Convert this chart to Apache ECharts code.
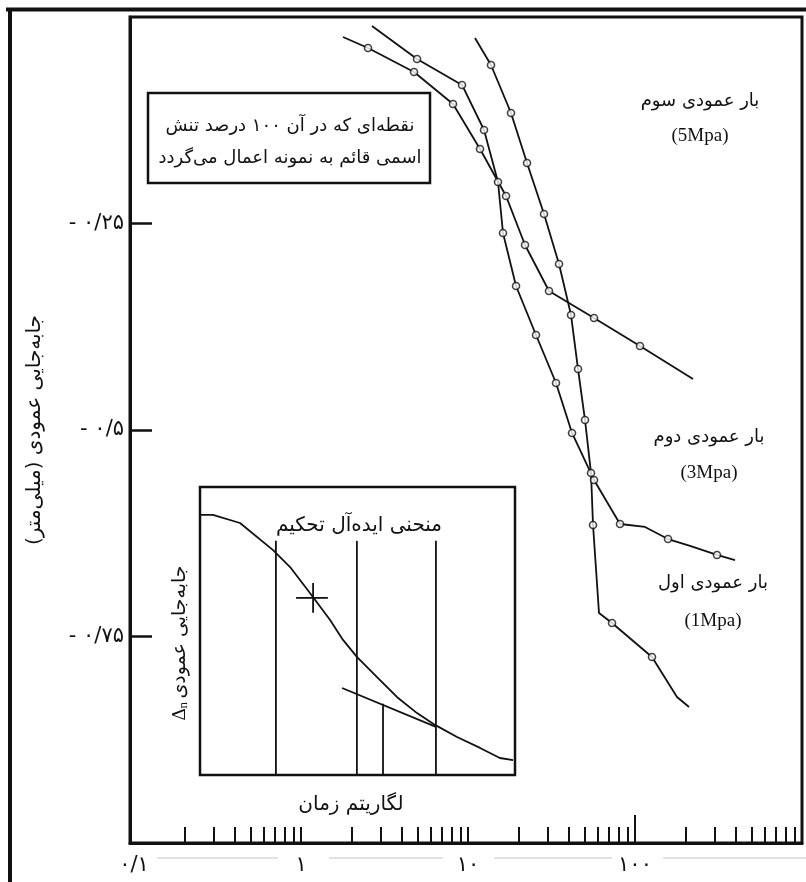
<!DOCTYPE html>
<html dir="ltr"><head><meta charset="utf-8">
<script src="https://cdn.jsdelivr.net/npm/echarts@6/dist/echarts.min.js"></script>
<style>html,body{margin:0;padding:0;background:#fff}#c{width:806px;height:882px}</style>
</head><body><div id="c"></div><script>
// ---------- data ----------
// time (log axis) and vertical displacement (mm)
const loadNames = ['بار عمودی سوم', 'بار عمودی دوم', 'بار عمودی اول'];
const loadUnits = ['(5Mpa)', '(3Mpa)', '(1Mpa)'];

// 5 MPa curve: traced line and measured points
const timeLoad5Trace = [1.784, 2.519, 4.750, 8.132, 11.80, 16.89, 21.95, 30.55, 56.83, 107.1, 222.5];
const dispLoad5Trace = [-0.0242, -0.0375, -0.0666, -0.1053, -0.1598, -0.2167, -0.2760, -0.3317, -0.3644, -0.3983, -0.4383];
const timeLoad5Pts = [2.519, 4.750, 8.132, 11.80, 16.89, 21.95, 30.55, 56.83, 107.1];
const dispLoad5Pts = [-0.0375, -0.0666, -0.1053, -0.1598, -0.2167, -0.2760, -0.3317, -0.3644, -0.3983];

// 3 MPa curve
const timeLoad3Trace = [2.661, 4.950, 9.207, 12.47, 15.12, 16.20, 19.39, 25.54, 33.65, 41.96, 56.83, 81.33, 114.8, 157.6, 213.5, 309.7, 397.0];
const dispLoad3Trace = [-0.0109, -0.0508, -0.0823, -0.1368, -0.1998, -0.2615, -0.3257, -0.3850, -0.4431, -0.5036, -0.5605, -0.6138, -0.6174, -0.6320, -0.6404, -0.6513, -0.6574];
const timeLoad3Pts = [4.950, 9.207, 12.47, 15.12, 16.20, 19.39, 25.54, 33.65, 41.96, 56.83, 81.33, 157.6, 309.7];
const dispLoad3Pts = [-0.0508, -0.0823, -0.1368, -0.1998, -0.2615, -0.3257, -0.3850, -0.4431, -0.5036, -0.5605, -0.6138, -0.6320, -0.6513];

// 1 MPa curve
const timeLoad1Trace = [11.01, 13.73, 18.09, 22.56, 28.52, 35.07, 41.39, 45.58, 50.19, 54.53, 56.05, 60.87, 72.84, 126.4, 178.4, 210.6];
const dispLoad1Trace = [-0.0254, -0.0581, -0.1162, -0.1768, -0.2385, -0.2990, -0.3608, -0.4262, -0.4879, -0.5521, -0.6150, -0.7215, -0.7337, -0.7748, -0.8232, -0.8354];
const timeLoad1Pts = [13.73, 18.09, 22.56, 28.52, 35.07, 41.39, 45.58, 50.19, 54.53, 56.05, 72.84, 126.4];
const dispLoad1Pts = [-0.0581, -0.1162, -0.1768, -0.2385, -0.2990, -0.3608, -0.4262, -0.4879, -0.5521, -0.6150, -0.7337, -0.7748];

// axes
const xMin = 0.0946, xMax = 1000;
const xTickLabels = [0.1, 1, 10, 100];
const xMinorTicks = [0.2, 0.3, 0.4, 0.5, 0.6, 0.7, 0.8, 0.9, 1, 2, 3, 4, 5, 6, 7, 8, 9, 10,
  20, 30, 40, 50, 60, 70, 80, 90, 100, 200, 300, 400, 500, 600, 700, 800, 900];
const xLongTicks = [100];
const yMin = -1, yMax = 0;
const yTickValues = [-0.25, -0.5, -0.75];

// inset (ideal consolidation curve), arbitrary units 0..100
const insetTime = [0, 4.1, 12.7, 23.2, 28.6, 34.9, 41.3, 45.4, 49.8, 56.2, 62.5, 68.9, 74.6, 81.6, 88.9, 95.2, 99.4];
const insetDisp = [90.3, 90.3, 87.5, 78.1, 72.2, 63.2, 53.8, 46.9, 41.0, 34.0, 27.1, 21.5, 17.4, 13.2, 9.4, 5.9, 5.2];
const insetTangentTime = [45.1, 74.9];
const insetTangentDisp = [30.2, 16.7];
const insetGuideTime = [24.1, 49.8, 74.9];
const insetGuideTop = 81.3;
const insetShortGuideTime = 58.1;
const insetShortGuideTop = 24.7;
const insetCrossH = [[30.5, 61.5], [40.6, 61.5]];
const insetCrossV = [[35.9, 66.7], [35.9, 56.3]];

// ---------- chart ----------
const FA = 'DejaVu Sans';
const INK = '#111';
const faDigits = s => s.replace(/\d/g, d => '۰۱۲۳۴۵۶۷۸۹'[+d]).replace('.', '/');
const zip = (a, b) => a.map((v, i) => [v, b[i]]);

const chart = echarts.init(document.getElementById('c'), null, {renderer: 'canvas', width: 806, height: 882});

function curve(name, tx, ty, px, py) {
  return [
    {type: 'line', name, xAxisIndex: 0, yAxisIndex: 0, data: zip(tx, ty), showSymbol: false,
     lineStyle: {color: INK, width: 1.8}, z: 3, silent: true},
    {type: 'scatter', name, xAxisIndex: 0, yAxisIndex: 0, data: zip(px, py), symbol: 'circle', symbolSize: 7,
     itemStyle: {color: '#fff', borderColor: INK, borderWidth: 1.6}, z: 4, silent: true}
  ];
}
function insetLine(data, z) {
  return {type: 'line', xAxisIndex: 3, yAxisIndex: 1, data, showSymbol: false,
    lineStyle: {color: INK, width: 1.8}, z: z || 5, silent: true};
}

const series = [
  ...curve(loadNames[0], timeLoad5Trace, dispLoad5Trace, timeLoad5Pts, dispLoad5Pts),
  ...curve(loadNames[1], timeLoad3Trace, dispLoad3Trace, timeLoad3Pts, dispLoad3Pts),
  ...curve(loadNames[2], timeLoad1Trace, dispLoad1Trace, timeLoad1Pts, dispLoad1Pts),
  insetLine(zip(insetTime, insetDisp)),
  insetLine(zip(insetTangentTime, insetTangentDisp)),
  ...insetGuideTime.map(t => insetLine([[t, 0], [t, insetGuideTop]])),
  insetLine([[insetShortGuideTime, 0], [insetShortGuideTime, insetShortGuideTop]]),
  insetLine(insetCrossH),
  insetLine(insetCrossV)
];

const txt = (x, y, text, size, family, extra) => Object.assign({
  type: 'text', x, y, z: 20,
  style: {text, fill: INK, font: size + 'px "' + (family || FA) + '"', align: 'center', verticalAlign: 'middle'}
}, extra || {});
const hline = (x1, x2, y, w, c) => ({type: 'line', z: 20, shape: {x1, y1: y, x2, y2: y}, style: {stroke: c || INK, lineWidth: w}});

const labelPos = [[700, 101, 136], [709, 437, 473], [713, 583, 621]];

const graphic = [
  // outer frame
  hline(6, 806, 9.5, 4),
  {type: 'line', z: 20, shape: {x1: 10, y1: 8, x2: 10, y2: 882}, style: {stroke: INK, lineWidth: 4}},
  // faint separators under the axis
  hline(157, 278, 858, 1, '#c4c4c4'),
  hline(329, 443, 858, 1, '#c4c4c4'),
  hline(494, 612, 858, 1, '#c4c4c4'),
  hline(663, 806, 858, 1, '#c4c4c4'),
  // annotation box
  {type: 'rect', z: 15, shape: {x: 148, y: 93, width: 282, height: 90}, style: {fill: '#fff', stroke: INK, lineWidth: 2.5}},
  txt(290, 126, 'نقطه‌ای که در آن ۱۰۰ درصد تنش', 18),
  txt(290, 158, 'اسمی قائم به نمونه اعمال می‌گردد', 18),
  // y axis name
  txt(35, 430, '\u200Fجابه‌جایی عمودی (میلی‌متر)\u200F', 20, FA, {rotation: Math.PI / 2}),
  // inset texts
  txt(359, 526, 'منحنی ایده‌آل تحکیم', 20),
  txt(351, 805, 'لگاریتم زمان', 20),
  {type: 'text', x: 180, y: 643, z: 20, rotation: Math.PI / 2,
   style: {text: '{d|Δ}{s|n} {t|جابه‌جایی عمودی}', align: 'center', verticalAlign: 'middle', fill: INK,
     rich: {d: {fontSize: 19, fontFamily: 'Liberation Serif', fill: INK},
            s: {fontSize: 13, fontFamily: 'Liberation Serif', fill: INK, padding: [8, 0, 0, 0]},
            t: {fontSize: 19, fontFamily: FA, fill: INK}}}}
];
labelPos.forEach((p, i) => {
  graphic.push(txt(p[0], p[1], loadNames[i], 18));
  graphic.push(txt(p[0], p[2], loadUnits[i], 19, 'Liberation Serif'));
});

const log10 = Math.log10;
chart.setOption({
  animation: false,
  backgroundColor: '#fff',
  textStyle: {fontFamily: FA},
  grid: [
    {left: 130, top: 17, right: 4, bottom: 39, show: true, borderColor: INK, borderWidth: 3, backgroundColor: 'transparent'},
    {left: 200, top: 487, width: 315, height: 288, show: true, borderColor: INK, borderWidth: 2.5, backgroundColor: '#fff', z: 3}
  ],
  xAxis: [
    {type: 'log', gridIndex: 0, min: xMin, max: xMax, position: 'bottom',
     axisLine: {show: true, onZero: false, lineStyle: {color: INK, width: 3}}, axisTick: {show: false}, axisLabel: {show: false},
     splitLine: {show: false}, minorTick: {show: false}},
    {type: 'value', gridIndex: 0, position: 'bottom', min: log10(xMin), max: log10(xMax),
     axisLine: {show: false, onZero: false},
     axisTick: {show: true, inside: true, length: 16, lineStyle: {color: INK, width: 2}, customValues: xMinorTicks.map(log10)},
     axisLabel: {show: true, customValues: xTickLabels.map(log10), color: INK, fontSize: 21, fontFamily: FA, margin: 12,
       formatter: v => faDigits(String(+Math.pow(10, v).toPrecision(6)))},
     splitLine: {show: false}},
    {type: 'value', gridIndex: 0, position: 'bottom', min: log10(xMin), max: log10(xMax),
     axisLine: {show: false, onZero: false},
     axisTick: {show: true, inside: true, length: 28, lineStyle: {color: INK, width: 2}, customValues: xLongTicks.map(log10)},
     axisLabel: {show: false}, splitLine: {show: false}},
    {type: 'value', gridIndex: 1, min: 0, max: 100, show: false}
  ],
  yAxis: [
    {type: 'value', gridIndex: 0, min: yMin, max: yMax, position: 'left',
     axisLine: {show: true, onZero: false, lineStyle: {color: INK, width: 3}},
     axisTick: {show: true, inside: true, length: 22, lineStyle: {color: INK, width: 2.5}, customValues: yTickValues},
     axisLabel: {show: true, customValues: yTickValues, color: INK, fontSize: 21, fontFamily: FA, margin: 6,
       formatter: v => faDigits(String(v)).replace('-', '- ')},
     splitLine: {show: false}},
    {type: 'value', gridIndex: 1, min: 0, max: 100, show: false}
  ],
  series,
  graphic
});
</script></body></html>
